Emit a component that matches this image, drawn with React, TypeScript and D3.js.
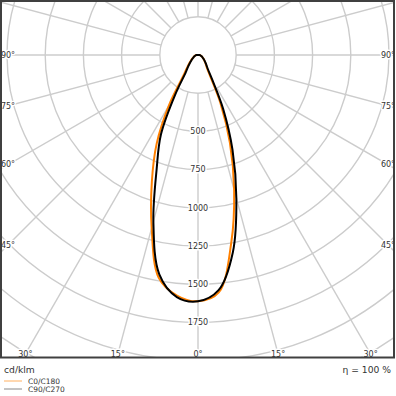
import React from "react";
import * as d3 from "d3";

// Angles from nadir (degrees) at which intensities are given
const ANGLES = [0, 5, 10, 15, 20, 25, 30, 35, 40, 45, 50, 55, 60, 65, 70, 75, 80, 85, 90];
// C0/C180 plane (cd/klm): left half = C180, right half = C0
const C180 = [1612, 1580, 1480, 1171, 883, 640, 380, 170, 115, 85, 64, 50, 39, 32, 26, 21, 17, 14, 12];
const C0 = [1612, 1560, 1251, 914, 610, 349, 158, 100, 80, 65, 53, 44, 36, 30, 25, 20, 17, 14, 12];
// C90/C270 plane: left half = C270, right half = C90
const C270 = [1612, 1590, 1458, 1128, 790, 574, 297, 141, 103, 76, 58, 46, 36, 30, 25, 20, 17, 14, 12];
const C90 = [1612, 1545, 1312, 970, 660, 389, 185, 112, 86, 68, 55, 45, 36, 30, 25, 20, 17, 14, 12];

const RING_VALUES = [250, 500, 750, 1000, 1250, 1500, 1750, 2000, 2250];
const RING_LABELS = [500, 750, 1000, 1250, 1500, 1750];
const SPOKE_ANGLES = d3.range(0, 360, 15);
const ANGLE_LABELS = [0, 15, 30, 45, 60, 75, 90];
const UNIT = "cd/klm";
const EFFICIENCY = "η = 100 %";
const LEGEND = ["C0/C180", "C90/C270"];
const COLORS = ["#ff8000", "#000000"];

const W = 396;
const H = 396;
const CX = 198;
const CY = 55;
const FRAME = { x: 1, y: 1, w: 393, h: 356.5 };
const FONT = "DejaVu Sans, Verdana, sans-serif";

const r = d3.scaleLinear().domain([0, 250]).range([0, 38.2]);

function curvePath(left: number[], right: number[]): string {
  const pts: [number, number][] = [];
  for (let i = ANGLES.length - 1; i >= 0; i--) {
    pts.push([Math.PI + (ANGLES[i] * Math.PI) / 180, r(left[i])]);
  }
  for (let i = 1; i < ANGLES.length; i++) {
    pts.push([Math.PI - (ANGLES[i] * Math.PI) / 180, r(right[i])]);
  }
  const line = d3
    .lineRadial<[number, number]>()
    .angle((d) => d[0])
    .radius((d) => d[1])
    .curve(d3.curveCatmullRom.alpha(0.5));
  return (line(pts) || "") + "Z";
}

function labelPos(deg: number, side: number): [number, number] {
  const a = (deg * Math.PI) / 180;
  const s = Math.sin(a);
  const c = Math.cos(a);
  const tx = s > 1e-6 ? 190 / s : Infinity;
  const ty = c > 1e-6 ? (354 - CY) / c : Infinity;
  const t = Math.min(tx, ty);
  return [CX + side * t * s, CY + t * c];
}

export default function App() {
  const haloStyle: React.CSSProperties = {
    paintOrder: "stroke",
    stroke: "#fff",
    strokeWidth: 3,
    strokeLinejoin: "round",
  };
  const angleLabels: { x: number; y: number; t: string }[] = [];
  ANGLE_LABELS.forEach((d) => {
    const [lx, ly] = labelPos(d, -1);
    angleLabels.push({ x: lx, y: ly, t: `${d}°` });
    if (d !== 0) {
      const [rx, ry] = labelPos(d, 1);
      angleLabels.push({ x: rx, y: ry, t: `${d}°` });
    }
  });
  return (
    <svg
      width={W}
      height={H}
      style={{ position: "absolute", left: 0, top: 0, background: "#fff" }}
      fontFamily={FONT}
    >
      <defs>
        <clipPath id="frameClip">
          <rect x={FRAME.x} y={FRAME.y} width={FRAME.w} height={FRAME.h} />
        </clipPath>
      </defs>
      <rect x={0} y={0} width={W} height={H} fill="#fff" />
      <g clipPath="url(#frameClip)">
        {SPOKE_ANGLES.map((d) => {
          const a = (d * Math.PI) / 180;
          return (
            <line
              key={d}
              x1={CX + r(250) * Math.sin(a)}
              y1={CY + r(250) * Math.cos(a)}
              x2={CX + 600 * Math.sin(a)}
              y2={CY + 600 * Math.cos(a)}
              stroke="#cccccc"
              strokeWidth={1.4}
            />
          );
        })}
        {RING_VALUES.map((v) => (
          <circle
            key={v}
            cx={CX}
            cy={CY}
            r={r(v)}
            fill={v === 250 ? "#fff" : "none"}
            stroke="#cccccc"
            strokeWidth={1.4}
          />
        ))}
        {RING_LABELS.map((v) => (
          <text
            key={v}
            x={CX}
            y={CY + r(v)}
            dy="0.35em"
            textAnchor="middle"
            fontSize={8}
            fill="#333"
            style={haloStyle}
          >
            {v}
          </text>
        ))}
        {angleLabels.map((l, i) => (
          <text
            key={i}
            x={l.x}
            y={l.y}
            dy="0.35em"
            textAnchor="middle"
            fontSize={8}
            fill="#333"
            style={haloStyle}
          >
            {l.t}
          </text>
        ))}
        <g transform={`translate(${CX},${CY})`} fill="none" strokeLinejoin="round">
          <path d={curvePath(C180, C0)} stroke={COLORS[0]} strokeWidth={2} />
          <path d={curvePath(C270, C90)} stroke={COLORS[1]} strokeWidth={2} />
        </g>
      </g>
      <rect
        x={FRAME.x}
        y={FRAME.y}
        width={FRAME.w}
        height={FRAME.h}
        fill="none"
        stroke="#404040"
        strokeWidth={2}
      />
      <text x={4} y={373} fontSize={9.2} fill="#333">
        {UNIT}
      </text>
      <text x={391} y={373} fontSize={9.2} fill="#333" textAnchor="end">
        {EFFICIENCY}
      </text>
      {LEGEND.map((t, i) => (
        <g key={t}>
          <line
            x1={4}
            x2={22}
            y1={381 + i * 8}
            y2={381 + i * 8}
            stroke={i === 0 ? "#ffb060" : "#888"}
            strokeWidth={1}
          />
          <text x={28} y={383.8 + i * 8} fontSize={7.5} fill="#333">
            {t}
          </text>
        </g>
      ))}
    </svg>
  );
}
